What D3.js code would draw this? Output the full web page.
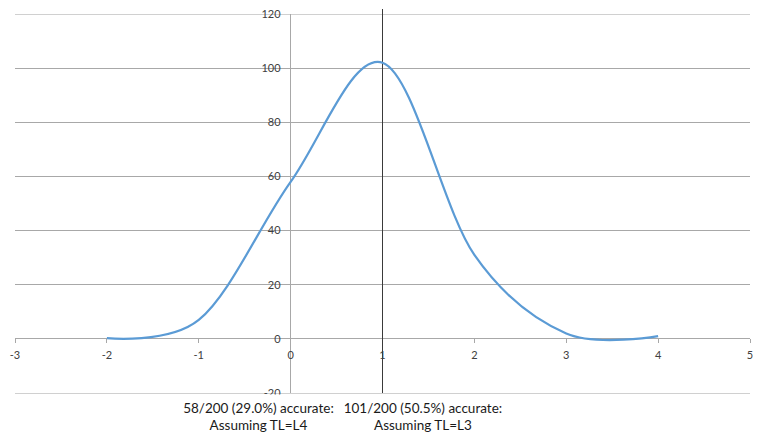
<!DOCTYPE html>
<html>
<head>
<meta charset="utf-8">
<script src="https://cdn.jsdelivr.net/npm/d3@7/dist/d3.min.js"></script>
<style>
  html, body { margin: 0; padding: 0; background: #fff; }
  svg { display: block; }
  text { font-family: Lato, "Open Sans", sans-serif; }
</style>
</head>
<body>
<svg id="chart" width="761" height="442"></svg>
<script>
// ---- data ----
const xValues = [-2, -1, 0, 1, 2, 3, 4];
const yValues = [0.3, 7, 58, 102, 31, 2, 1];
const xTicks = [-3, -2, -1, 0, 1, 2, 3, 4, 5];
const yTicks = [-20, 0, 20, 40, 60, 80, 100, 120];
const markerX = [1];
const noteLines = [
  ["58/200 (29.0%) accurate:", "Assuming TL=L4"],
  ["101/200 (50.5%) accurate:", "Assuming TL=L3"]
];
const noteCenters = [-0.35, 1.44];

const svg = d3.select("#chart");
const x = d3.scaleLinear().domain([-3, 5]).range([15, 750]);
const y = d3.scaleLinear().domain([-20, 120]).range([393, 14]);

// horizontal gridlines
svg.append("g").selectAll("line").data(yTicks).join("line")
  .attr("x1", x(-3)).attr("x2", x(5))
  .attr("y1", d => y(d)).attr("y2", d => y(d))
  .attr("stroke", d => (d === 120 || d === -20) ? "#d0d0d0" : "#a8a8a8")
  .attr("stroke-width", 1)
  .attr("shape-rendering", "crispEdges");

// y axis at x=0
svg.append("line")
  .attr("x1", x(0)).attr("x2", x(0))
  .attr("y1", y(120)).attr("y2", y(-20))
  .attr("stroke", "#a8a8a8").attr("shape-rendering", "crispEdges");

// x axis ticks (downwards at y=0)
svg.append("g").selectAll("line").data(xTicks).join("line")
  .attr("x1", d => x(d)).attr("x2", d => x(d))
  .attr("y1", y(0)).attr("y2", y(0) + 4)
  .attr("stroke", "#a8a8a8").attr("shape-rendering", "crispEdges");

// y tick labels
svg.append("g").selectAll("text").data(yTicks).join("text")
  .attr("x", x(0) - 10).attr("y", d => y(d))
  .attr("dy", "0.35em")
  .attr("text-anchor", "end")
  .attr("font-size", 11)
  .attr("fill", "#404040")
  .text(d => d);

// x tick labels
svg.append("g").selectAll("text").data(xTicks).join("text")
  .attr("x", d => x(d)).attr("y", y(0) + 16)
  .attr("dy", "0.35em")
  .attr("text-anchor", "middle")
  .attr("font-size", 11)
  .attr("fill", "#404040")
  .text(d => d);

// marker line at x=1
svg.append("g").selectAll("line").data(markerX).join("line")
  .attr("x1", d => x(d)).attr("x2", d => x(d))
  .attr("y1", 9).attr("y2", y(-20))
  .attr("stroke", "#3a3a3a").attr("stroke-width", 1)
  .attr("shape-rendering", "crispEdges");

// smooth curve
const pts = xValues.map((v, i) => [v, yValues[i]]);
const line = d3.line().x(d => x(d[0])).y(d => y(d[1])).curve(d3.curveCatmullRom.alpha(0.1));
svg.append("path").datum(pts)
  .attr("d", line)
  .attr("fill", "none")
  .attr("stroke", "#5b9bd5")
  .attr("stroke-width", 2.2)
  .attr("stroke-linejoin", "round");

// white box for annotations (covers lower part of -20 label)
svg.append("rect")
  .attr("x", 170).attr("y", y(-20) + 1.5)
  .attr("width", 350).attr("height", 50)
  .attr("fill", "#fff");

// annotations
noteLines.forEach((lines, i) => {
  const g = svg.append("text")
    .attr("text-anchor", "middle")
    .attr("font-size", 13.5)
    .attr("fill", "#1a1a1a");
  lines.forEach((t, j) => {
    g.append("tspan")
      .attr("x", x(noteCenters[i]))
      .attr("y", 413 + j * 17)
      .text(t);
  });
});
</script>
</body>
</html>
